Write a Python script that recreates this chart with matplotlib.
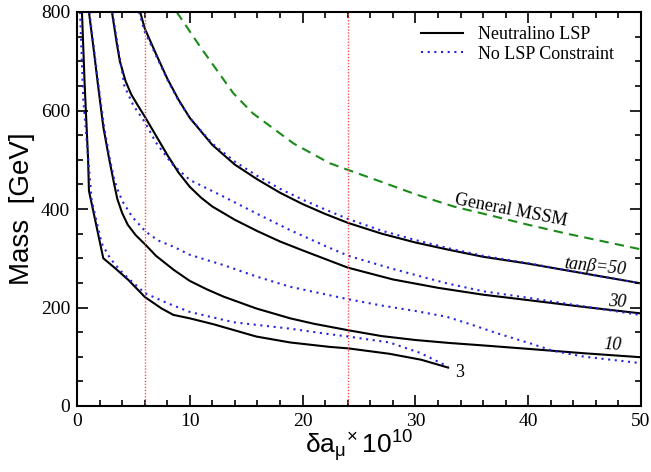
import matplotlib
matplotlib.use("Agg")
import matplotlib.pyplot as plt
from matplotlib.ticker import MultipleLocator
from matplotlib.lines import Line2D

# ---- data ----
n3_x = [0.44, 0.68, 0.98, 1.06, 2.33, 3.37, 4.55, 6.03, 7.5, 8.54, 10.0, 12.1, 15.9, 18.9, 22.4, 24.05, 27.7, 30.5, 32.9]
n3_y = [800, 652, 503, 437, 300, 280, 256, 221, 198, 185, 178, 166, 141, 129, 120, 117, 106, 94, 78]
d3_x = [0.27, 0.56, 1.3, 2.19, 2.93, 3.8, 4.55, 6.03, 8.1, 10.0, 13.9, 18.9, 22.0, 24.05, 27.7, 30.4, 32.9]
d3_y = [800, 621, 418, 330, 300, 276, 259, 229, 208, 191, 170, 157, 147, 141, 129, 108, 80]

n10_x = [1.06, 1.5, 1.86, 2.33, 2.84, 3.3, 3.58, 4.0, 4.5, 5.2, 6.09, 7.0, 8.6, 10.0, 11.5, 13.0, 15.9, 18.9, 21.0, 24.0, 27.0, 30.0, 33.0, 36.0, 40.0, 45.0, 50.0]
n10_y = [800, 720, 652, 567, 503, 450, 420, 392, 368, 347, 327, 305, 276, 254, 237, 222, 198, 178, 167, 154, 142, 134, 128, 123, 116, 107, 99]
d10_x = [1.1, 1.9, 2.4, 2.9, 3.3, 3.7, 4.1, 4.9, 6.09, 7.2, 8.6, 10.0, 13.0, 15.9, 18.9, 24.0, 27.0, 30.0, 32.8, 35.0, 37.2, 40.2, 42.2, 45.0, 50.0]
d10_y = [800, 652, 567, 503, 460, 433, 413, 384, 354, 336, 323, 307, 286, 263, 242, 217, 204, 193, 181, 165, 148, 127, 112, 100, 87]

n30_x = [3.1, 3.5, 3.8, 4.3, 4.8, 5.4, 6.0, 7.0, 8.0, 9.0, 10.0, 11.0, 12.0, 14.0, 16.0, 18.0, 20.0, 24.0, 28.0, 32.0, 36.0, 40.0, 45.0, 50.0]
n30_y = [800, 740, 700, 660, 633, 610, 588, 549, 510, 474, 445, 423, 405, 378, 355, 334, 316, 281, 257, 240, 226, 215, 201, 188]
d30_x = [3.13, 4.2, 5.0, 6.0, 7.0, 8.4, 10.0, 13.0, 15.9, 18.9, 22.0, 24.05, 27.75, 30.0, 32.8, 36.0, 40.2, 45.0, 49.9]
d30_y = [800, 650, 610, 577, 535, 492, 459, 425, 391, 357, 325, 305, 280, 266, 249, 233, 219, 202, 185]

n50_x = [5.6, 6.0, 7.0, 8.0, 9.0, 10.0, 12.0, 14.0, 16.0, 18.0, 20.0, 22.0, 24.0, 27.0, 30.0, 33.0, 36.0, 40.0, 45.0, 50.0]
n50_y = [800, 767, 715, 665, 622, 585, 530, 490, 460, 433, 410, 390, 372, 350, 332, 317, 303, 289, 269, 249]
d50_x = [5.5, 6.0, 7.0, 8.0, 9.0, 10.0, 12.0, 14.0, 16.0, 18.0, 20.0, 22.0, 24.0, 27.0, 30.0, 33.0, 36.0, 40.0, 45.0, 50.0]
d50_y = [800, 760, 712, 663, 620, 585, 533, 496, 467, 441, 419, 399, 380, 356, 337, 320, 305, 290, 269, 249]

mssm_x = [8.84, 10.9, 13.86, 15.6, 19.2, 22.4, 24.2, 27.0, 30.0, 33.4, 37.0, 40.0, 43.4, 46.5, 50.0]
mssm_y = [800, 730, 635, 594, 533, 493, 478, 455, 430, 405, 385, 368, 350, 335, 318]

vlines_x = [6.0, 24.0]

x_ticks = [0, 10, 20, 30, 40, 50]
y_ticks = [0, 200, 400, 600, 800]

labels = ["tan\u03b2=50", "30", "10", "3"]
label_pos = [(45.9, 283), (47.9, 211), (47.5, 124), (33.9, 69)]
label_rot = [-6, -3, -3, 0]
label_style = ["italic", "italic", "italic", "normal"]

plt.rcParams['mathtext.fontset'] = 'custom'
plt.rcParams['mathtext.rm'] = 'Liberation Sans'
plt.rcParams['mathtext.default'] = 'regular'

fig = plt.figure(figsize=(6.51, 4.72), dpi=100)
ax = fig.add_axes([77/651, 1-406/472, 564/651, 394/472])

blk = dict(color='black', lw=1.5)
blu = dict(color='#2525e0', lw=1.5, ls=(0, (1, 2.2)))
for xs, ys in [(n3_x, n3_y), (n10_x, n10_y), (n30_x, n30_y), (n50_x, n50_y)]:
    ax.plot(xs, ys, **blk)
for xs, ys in [(d3_x, d3_y), (d10_x, d10_y), (d30_x, d30_y), (d50_x, d50_y)]:
    ax.plot(xs, ys, **blu)
ax.plot(mssm_x, mssm_y, color='#1a8a1a', lw=1.5, ls=(0, (4.5, 3)))
for xv in vlines_x:
    ax.axvline(xv, color='#ff5050', lw=1.0, ls=(0, (1, 1.2)))

h1 = Line2D([], [], **blk)
h2 = Line2D([], [], **blu)
ax.legend([h1, h2], ["Neutralino LSP", "No LSP Constraint"], loc='upper left',
          bbox_to_anchor=((421-77)/564, (406-26)/394), frameon=False,
          prop={'family': 'Liberation Serif', 'size': 13}, handlelength=2.35,
          handletextpad=0.8, labelspacing=0.15, borderpad=0, borderaxespad=0)

ax.text(38.5, 396, "General MSSM", rotation=-11, ha='center', va='center',
        family='Liberation Serif', fontsize=13)
for t, (lx, ly), r, s in zip(labels, label_pos, label_rot, label_style):
    ax.text(lx, ly, t, rotation=r, ha='center', va='center', family='Liberation Serif',
            fontsize=13, style=s)

ax.set_xlim(0, 50)
ax.set_ylim(0, 800)
ax.set_xticks(x_ticks)
ax.set_yticks(y_ticks)
ax.xaxis.set_minor_locator(MultipleLocator(2))
ax.yaxis.set_minor_locator(MultipleLocator(50))
ax.tick_params(which='both', direction='in', top=True, right=True, width=1.2)
ax.tick_params(which='major', length=8, pad=5)
ax.tick_params(which='minor', length=4.5)
for lab in ax.get_xticklabels() + ax.get_yticklabels():
    lab.set_family('Liberation Serif')
    lab.set_fontsize(14)
for sp in ax.spines.values():
    sp.set_linewidth(1.5)

ax.set_ylabel("Mass  [GeV]", family='Liberation Sans', fontsize=20, labelpad=4)
ax.set_xlabel(r"$\delta a_{\mu}{}^{\times}\,10^{10}$", family='Liberation Sans', fontsize=19, labelpad=-1)

fig.savefig("out.png", dpi=100)
